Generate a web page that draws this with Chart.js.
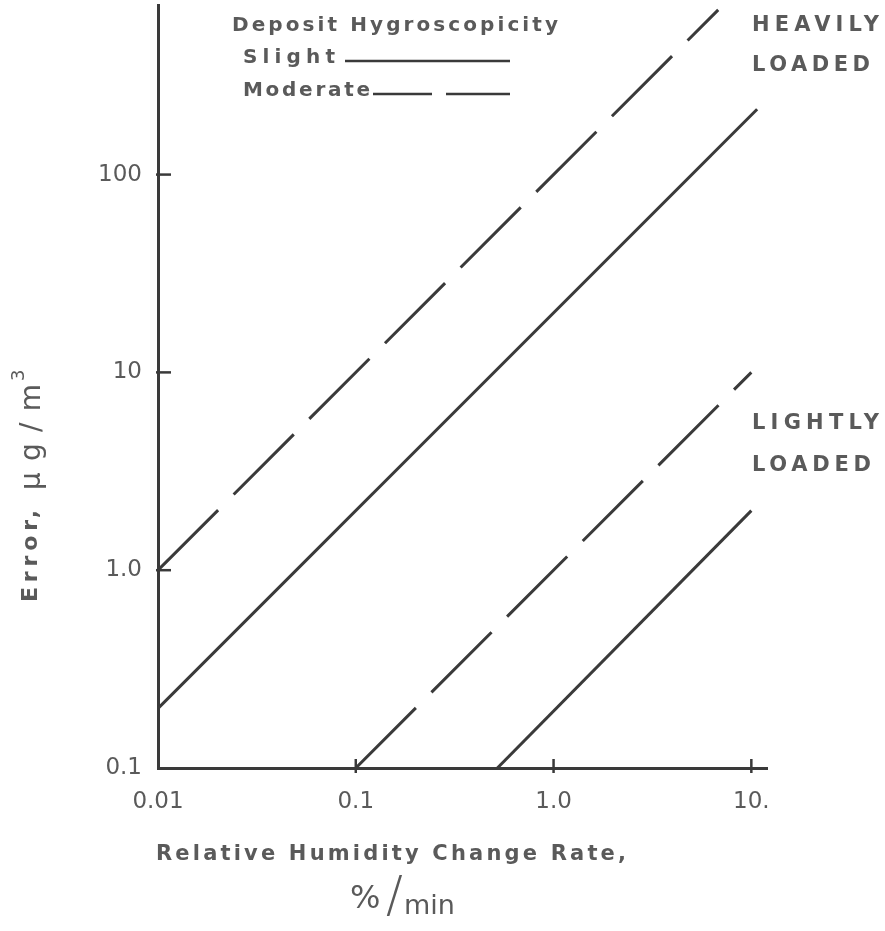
<!DOCTYPE html>
<html>
<head>
<meta charset="utf-8">
<script src="https://cdn.jsdelivr.net/npm/chart.js@4.4.1/dist/chart.umd.min.js"></script>
<style>
  html, body { margin: 0; background: #fff; }
  #wrap { width: 885px; height: 931px; position: relative; }
</style>
</head>
<body>
<div id="wrap"><canvas id="chart"></canvas></div>
<script>
// tick positions and their printed labels
const xTicks = [0.01, 0.1, 1, 10];
const xTickLabels = ['0.01', '0.1', '1.0', '10.'];
const yTicks = [0.1, 1, 10, 100];
const yTickLabels = ['0.1', '1.0', '10', '100'];

// curves (rate %/min -> error ug/m3)
const heavyModerateX = [0.01, 6.8];
const heavyModerateY = [1.0, 680];
const heavySlightX = [0.01, 10.7];
const heavySlightY = [0.2, 214];
const lightModerateX = [0.1, 10];
const lightModerateY = [0.1, 10];
const lightSlightX = [0.52, 10];
const lightSlightY = [0.1, 2.0];

const INK = '#3a3a3a';
const TEXT = '#5a5a5a';
const DASH = [85, 22];

function pts(xs, ys) {
    return xs.map(function (x, i) { return { x: x, y: ys[i] }; });
}

function curve(label, xs, ys, dashed) {
    return {
        label: label,
        data: pts(xs, ys),
        showLine: true,
        borderColor: INK,
        borderWidth: 3,
        borderDash: dashed ? DASH : [],
        pointRadius: 0,
        tension: 0
    };
}

// draw text stretched to a given width (typewriter-ish spacing of the scan)
function spaced(ctx, text, x, y, width, font) {
    ctx.font = font;
    ctx.letterSpacing = '0px';
    var w = ctx.measureText(text).width;
    var gap = text.length > 1 ? (width - w) / (text.length - 1) : 0;
    ctx.letterSpacing = gap + 'px';
    ctx.fillText(text, x, y);
    ctx.letterSpacing = '0px';
}

function noPad(s) {
    s.paddingTop = 0; s.paddingBottom = 0; s.paddingLeft = 0; s.paddingRight = 0;
}

const extras = {
    id: 'extras',
    afterDraw: function (chart) {
        var ctx = chart.ctx;
        var xs = chart.scales.x, ys = chart.scales.y;
        var a = chart.chartArea;
        ctx.save();

        // small inward tick marks
        ctx.strokeStyle = INK;
        ctx.lineWidth = 2.5;
        yTicks.slice(1).forEach(function (v) {
            var py = ys.getPixelForValue(v);
            ctx.beginPath(); ctx.moveTo(a.left - 2, py); ctx.lineTo(a.left + 13, py); ctx.stroke();
        });
        xTicks.slice(1).forEach(function (v) {
            var px = xs.getPixelForValue(v);
            ctx.beginPath(); ctx.moveTo(px, a.bottom - 9); ctx.lineTo(px, a.bottom + 5); ctx.stroke();
        });

        ctx.fillStyle = TEXT;
        ctx.textBaseline = 'middle';
        ctx.textAlign = 'left';
        var f = '600 20px "DejaVu Sans"';

        // legend block
        spaced(ctx, 'Deposit Hygroscopicity', 232, 26, 326, f);
        spaced(ctx, 'Slight', 243, 58, 92, f);
        spaced(ctx, 'Moderate', 243, 91, 127, f);
        ctx.lineWidth = 2.5;
        ctx.beginPath(); ctx.moveTo(345, 61); ctx.lineTo(510, 61); ctx.stroke();
        ctx.beginPath(); ctx.moveTo(373, 94); ctx.lineTo(432, 94); ctx.stroke();
        ctx.beginPath(); ctx.moveTo(446, 94); ctx.lineTo(510, 94); ctx.stroke();

        // curve group labels
        var fl = '600 21px "DejaVu Sans"';
        spaced(ctx, 'HEAVILY', 752, 26, 127, fl);
        spaced(ctx, 'LOADED', 752, 66, 118, fl);
        spaced(ctx, 'LIGHTLY', 752, 424, 127, fl);
        spaced(ctx, 'LOADED', 752, 466, 119, fl);

        // x axis title
        var ft = '600 21px "DejaVu Sans"';
        spaced(ctx, 'Relative Humidity Change Rate,', 156, 855, 470, ft);
        ctx.font = '32px "DejaVu Sans"';
        ctx.fillText('%', 350, 900);
        ctx.font = '300 50px "DejaVu Sans"';
        ctx.fillText('/', 386, 898);
        ctx.font = '27px "DejaVu Sans"';
        ctx.fillText('min', 404, 907);

        // y axis title
        ctx.translate(31, 602);
        ctx.rotate(-Math.PI / 2);
        spaced(ctx, 'Error,', 0, 0, 92, '600 22px "DejaVu Sans"');
        spaced(ctx, 'μg/m', 112, 2, 106, '28px "DejaVu Sans"');
        ctx.font = '18px "DejaVu Sans"';
        ctx.fillText('3', 221, -12);

        ctx.restore();
    }
};

new Chart(document.getElementById('chart'), {
    type: 'scatter',
    data: {
        datasets: [
            curve('Heavily loaded, moderate', heavyModerateX, heavyModerateY, true),
            curve('Heavily loaded, slight', heavySlightX, heavySlightY, false),
            curve('Lightly loaded, moderate', lightModerateX, lightModerateY, true),
            curve('Lightly loaded, slight', lightSlightX, lightSlightY, false)
        ]
    },
    options: {
        responsive: true,
        maintainAspectRatio: false,
        animation: false,
        layout: { padding: { top: 5, right: 118, left: 0, bottom: 0 } },
        plugins: { legend: { display: false }, tooltip: { enabled: false } },
        scales: {
            x: {
                type: 'logarithmic',
                min: 0.01,
                max: 12,
                afterBuildTicks: function (s) { s.ticks = xTicks.map(function (v) { return { value: v }; }); },
                afterFit: function (s) { s.height = 163; noPad(s); },
                grid: { display: false, drawTicks: false },
                border: { color: INK, width: 3 },
                ticks: {
                    color: TEXT,
                    padding: 20,
                    maxRotation: 0,
                    autoSkip: false,
                    font: { family: 'DejaVu Sans', size: 23 },
                    callback: function (v, i) { return xTickLabels[i]; }
                }
            },
            y: {
                type: 'logarithmic',
                min: 0.1,
                max: 720,
                afterBuildTicks: function (s) { s.ticks = yTicks.map(function (v) { return { value: v }; }); },
                afterFit: function (s) { s.width = 158; noPad(s); },
                grid: { display: false, drawTicks: false },
                border: { color: INK, width: 3 },
                ticks: {
                    color: TEXT,
                    padding: 16,
                    autoSkip: false,
                    font: { family: 'DejaVu Sans', size: 23 },
                    callback: function (v, i) { return yTickLabels[i]; }
                }
            }
        }
    },
    plugins: [extras]
});
</script>
</body>
</html>
